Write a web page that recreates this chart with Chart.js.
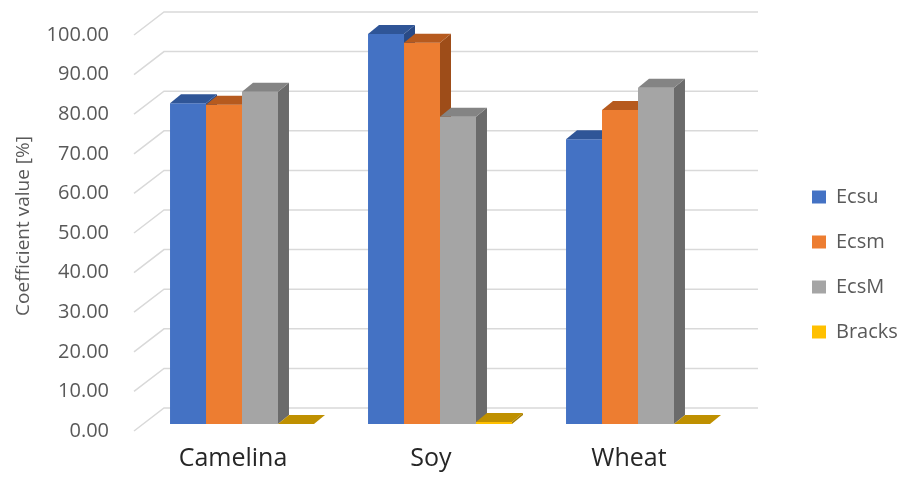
<!DOCTYPE html>
<html lang="en">
  <head>
    <meta charset="UTF-8" />
    <title>Coefficient values</title>
    <script src="https://cdn.jsdelivr.net/npm/chart.js@4.4.0/dist/chart.umd.min.js"></script>
    <style>
      body { margin: 0; background: #fff; }
    </style>
  </head>
  <body>
    <canvas id="chart" width="901" height="477"></canvas>
    <script>
      // data
      const crops = ['Camelina', 'Soy', 'Wheat'];
      const seriesNames = ['Ecsu', 'Ecsm', 'EcsM', 'Bracks'];
      const ecsu = [81.0, 98.5, 71.9];
      const ecsm = [80.6, 96.3, 79.3];
      const ecsM = [83.9, 77.6, 84.9];
      const bracks = [0, 0.5, 0];
      const yMin = 0, yMax = 100, yStep = 10;

      // colours: front, top, side
      const frontColors = ['#4472C4', '#ED7D31', '#A5A5A5', '#FFC000'];
      const topColors = ['#2F5597', '#B65A1E', '#848484', '#BF9000'];
      const sideColors = ['#284A87', '#9E4D19', '#6B6B6B', '#A67D00'];

      // fake 3d offsets (pixels)
      const depth = { dx: 11, dy: -9 };   // thickness of a bar
      const wall = { dx: 21, dy: -16 };   // bar plane -> back wall
      const front = { dx: -9, dy: 7 };    // bar plane -> front of floor

      Chart.defaults.font.family = "'Open Sans', sans-serif";

      const box3d = {
        id: 'box3d',
        beforeDatasetsDraw(chart) {
          const { ctx, chartArea: a, scales: { y } } = chart;
          ctx.save();
          // back wall grid + floor diagonals
          ctx.strokeStyle = '#d9d9d9';
          ctx.lineWidth = 1.5;
          y.ticks.forEach(t => {
            const py = y.getPixelForValue(t.value);
            ctx.beginPath();
            ctx.moveTo(a.left + front.dx, py + front.dy);
            ctx.lineTo(a.left + wall.dx, py + wall.dy);
            ctx.lineTo(a.right + wall.dx, py + wall.dy);
            ctx.stroke();
          });
          // bars left to right so the next bar hides the side of the previous one
          chart.data.datasets.forEach((ds, i) => {
            const meta = chart.getDatasetMeta(i);
            meta.data.forEach(bar => {
              bar.draw(ctx);
              const p = bar.getProps(['x', 'y', 'base', 'width'], true);
              const l = p.x - p.width / 2, r = p.x + p.width / 2;
              // side
              ctx.fillStyle = sideColors[i];
              ctx.beginPath();
              ctx.moveTo(r, p.y);
              ctx.lineTo(r + depth.dx, p.y + depth.dy);
              ctx.lineTo(r + depth.dx, p.base + depth.dy);
              ctx.lineTo(r, p.base);
              ctx.closePath();
              ctx.fill();
              // top
              ctx.fillStyle = topColors[i];
              ctx.beginPath();
              ctx.moveTo(l, p.y);
              ctx.lineTo(r, p.y);
              ctx.lineTo(r + depth.dx, p.y + depth.dy);
              ctx.lineTo(l + depth.dx, p.y + depth.dy);
              ctx.closePath();
              ctx.fill();
            });
          });
          ctx.restore();
          return false;
        }
      };

      const values = [ecsu, ecsm, ecsM, bracks];
      const ctx = document.getElementById('chart').getContext('2d');
      new Chart(ctx, {
        type: 'bar',
        data: {
          labels: crops,
          datasets: seriesNames.map((name, i) => ({
            label: name,
            data: values[i],
            backgroundColor: frontColors[i],
            borderWidth: 0,
            barPercentage: 1,
            categoryPercentage: 0.727
          }))
        },
        options: {
          responsive: false,
          animation: false,
          layout: { padding: { top: 28 } },
          plugins: {
            tooltip: { enabled: false },
            legend: {
              position: 'right',
              maxWidth: 114,
              title: { display: true, text: '', font: { size: 10 }, padding: { top: 0, bottom: 12 } },
              labels: {
                boxWidth: 14,
                boxHeight: 13,
                padding: 25,
                color: '#595959',
                font: { size: 20 }
              }
            }
          },
          scales: {
            x: {
              grid: { display: false, drawTicks: false },
              border: { display: false },
              ticks: { color: '#262626', font: { size: 25 }, padding: 20, labelOffset: -9 },
              afterFit(s) { s.height = 53; }
            },
            y: {
              min: yMin,
              max: yMax,
              grid: { display: false, drawTicks: true, tickLength: 30 },
              border: { display: false },
              ticks: {
                stepSize: yStep,
                color: '#595959',
                font: { size: 20 },
                padding: 4,
                labelOffset: 7,
                callback: v => v.toFixed(2)
              },
              title: {
                display: true,
                text: 'Coefficient value [%]',
                color: '#595959',
                font: { size: 19 },
                padding: { top: 12, bottom: 0 }
              },
              afterFit(s) { s.width = 143; }
            },
            gap: {
              type: 'linear',
              position: 'right',
              grid: { display: false, drawTicks: false },
              border: { display: false },
              ticks: { display: false },
              afterFit(s) { s.width = 50; }
            }
          }
        },
        plugins: [box3d]
      });
    </script>
  </body>
</html>
